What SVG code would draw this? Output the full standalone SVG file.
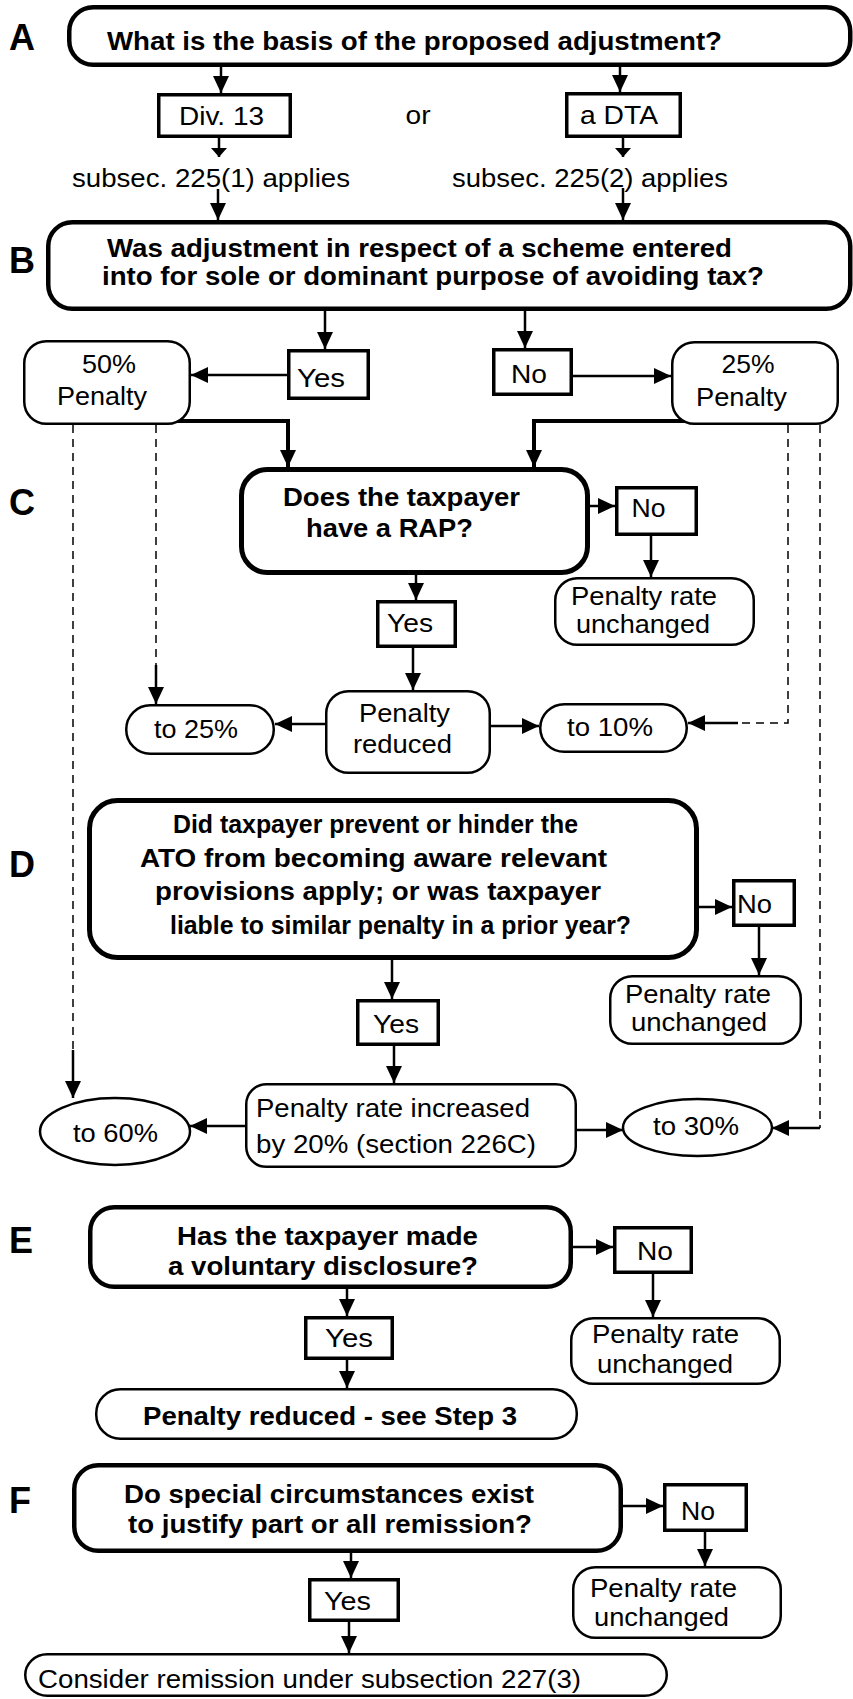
<svg xmlns="http://www.w3.org/2000/svg" width="853" height="1699" viewBox="0 0 853 1699">
<style>
.q{fill:#fff;stroke:#000;stroke-width:4.5}
.q5{fill:#fff;stroke:#000;stroke-width:5}
.sq{fill:#fff;stroke:#000;stroke-width:3.5}
.rb{fill:#fff;stroke:#000;stroke-width:2.5}
.ln{stroke:#000;stroke-width:2.5;fill:none}
.thk{stroke-width:4}
.dash{stroke:#000;stroke-width:1.5;stroke-dasharray:8 6;fill:none}
text{font-family:"Liberation Sans",Arial,sans-serif;fill:#000}
.t{font-size:26.5px}
.t2{font-size:25px}
.b{font-size:25.5px;font-weight:bold}
.L{font-size:36px;font-weight:bold}
</style>
<defs>
<marker id="a" markerUnits="userSpaceOnUse" markerWidth="17" markerHeight="16" refX="17" refY="8" orient="auto"><path d="M0,0 L17,8 L0,16 Z" fill="#000"/></marker>
<marker id="s" markerUnits="userSpaceOnUse" markerWidth="9" markerHeight="16" refX="9" refY="8" orient="auto"><path d="M0,0 L9,8 L0,16 Z" fill="#000"/></marker>
</defs>

<g id="letters">
<text class="L" x="9" y="50">A</text>
<text class="L" x="9" y="273">B</text>
<text class="L" x="9" y="515">C</text>
<text class="L" x="9" y="877">D</text>
<text class="L" x="9" y="1253">E</text>
<text class="L" x="9" y="1513">F</text>
</g>

<g id="connectors">
<line class="ln" x1="221" y1="67" x2="221" y2="93" marker-end="url(#a)"/>
<line class="ln" x1="620" y1="67" x2="620" y2="92" marker-end="url(#a)"/>
<line class="ln" x1="219" y1="138" x2="219" y2="157" marker-end="url(#s)"/>
<line class="ln" x1="623" y1="138" x2="623" y2="157" marker-end="url(#s)"/>
<line class="ln" x1="218" y1="189" x2="218" y2="220" marker-end="url(#a)"/>
<line class="ln" x1="623" y1="188" x2="623" y2="220" marker-end="url(#a)"/>
<line class="ln" x1="325" y1="311" x2="325" y2="349" marker-end="url(#a)"/>
<line class="ln" x1="525" y1="311" x2="525" y2="348" marker-end="url(#a)"/>
<line class="ln" x1="287" y1="375" x2="191" y2="375" marker-end="url(#a)"/>
<line class="ln" x1="573" y1="376" x2="671" y2="376" marker-end="url(#a)"/>
<polyline class="ln thk" points="170,421 288,421 288,467" marker-end="url(#a)"/>
<polyline class="ln thk" points="693,421 534,421 534,467" marker-end="url(#a)"/>
<line class="dash" x1="73" y1="425" x2="73" y2="1050"/>
<line class="ln" x1="73" y1="1050" x2="73" y2="1098" marker-end="url(#a)"/>
<line class="dash" x1="156" y1="425" x2="156" y2="665"/>
<line class="ln" x1="156" y1="665" x2="156" y2="704" marker-end="url(#a)"/>
<polyline class="dash" points="788,425 788,723 738,723"/>
<line class="ln" x1="738" y1="723" x2="688" y2="723" marker-end="url(#a)"/>
<line class="dash" x1="820" y1="425" x2="820" y2="1128"/>
<line class="ln" x1="820" y1="1128" x2="772" y2="1128" marker-end="url(#a)"/>
<line class="ln" x1="590" y1="506" x2="615" y2="506" marker-end="url(#a)"/>
<line class="ln" x1="651" y1="536" x2="651" y2="577" marker-end="url(#a)"/>
<line class="ln" x1="416" y1="557" x2="416" y2="600" marker-end="url(#a)"/>
<line class="ln" x1="413" y1="648" x2="413" y2="690" marker-end="url(#a)"/>
<line class="ln" x1="325" y1="724" x2="275" y2="724" marker-end="url(#a)"/>
<line class="ln" x1="491" y1="726" x2="539" y2="726" marker-end="url(#a)"/>
<line class="ln" x1="699" y1="907" x2="732" y2="907" marker-end="url(#a)"/>
<line class="ln" x1="759" y1="927" x2="759" y2="975" marker-end="url(#a)"/>
<line class="ln" x1="392" y1="960" x2="392" y2="999" marker-end="url(#a)"/>
<line class="ln" x1="394" y1="1046" x2="394" y2="1083" marker-end="url(#a)"/>
<line class="ln" x1="245" y1="1126" x2="190" y2="1126" marker-end="url(#a)"/>
<line class="ln" x1="577" y1="1130" x2="623" y2="1130" marker-end="url(#a)"/>
<line class="ln" x1="573" y1="1247" x2="613" y2="1247" marker-end="url(#a)"/>
<line class="ln" x1="653" y1="1274" x2="653" y2="1317" marker-end="url(#a)"/>
<line class="ln" x1="347" y1="1289" x2="347" y2="1316" marker-end="url(#a)"/>
<line class="ln" x1="347" y1="1360" x2="347" y2="1388" marker-end="url(#a)"/>
<line class="ln" x1="623" y1="1506" x2="663" y2="1506" marker-end="url(#a)"/>
<line class="ln" x1="705" y1="1532" x2="705" y2="1566" marker-end="url(#a)"/>
<line class="ln" x1="351" y1="1553" x2="351" y2="1578" marker-end="url(#a)"/>
<line class="ln" x1="349" y1="1622" x2="349" y2="1653" marker-end="url(#a)"/>
</g>

<g id="nodeA">
<rect class="q" x="69.25" y="7.25" width="781" height="57.5" rx="24"/>
<text class="b" x="414.5" y="50" text-anchor="middle" textLength="615" lengthAdjust="spacingAndGlyphs">What is the basis of the proposed adjustment?</text>
</g>
<g id="div13">
<rect class="sq" x="158.75" y="94.75" width="131.5" height="41.5"/>
<text class="t" x="221.5" y="125" text-anchor="middle" textLength="85" lengthAdjust="spacingAndGlyphs">Div. 13</text>
</g>
<g id="or"><text class="t" x="418" y="124" text-anchor="middle" textLength="25" lengthAdjust="spacingAndGlyphs">or</text></g>
<g id="dta">
<rect class="sq" x="566.75" y="93.75" width="113.5" height="42.5"/>
<text class="t" x="619" y="124" text-anchor="middle" textLength="78" lengthAdjust="spacingAndGlyphs">a DTA</text>
</g>
<g id="sub1"><text class="t" x="211" y="187" text-anchor="middle" textLength="278" lengthAdjust="spacingAndGlyphs">subsec. 225(1) applies</text></g>
<g id="sub2"><text class="t" x="590" y="187" text-anchor="middle" textLength="276" lengthAdjust="spacingAndGlyphs">subsec. 225(2) applies</text></g>

<g id="nodeB">
<rect class="q" x="48.25" y="222.25" width="802" height="86.5" rx="24"/>
<text class="b" x="419.5" y="257" text-anchor="middle" textLength="625" lengthAdjust="spacingAndGlyphs">Was adjustment in respect of a scheme entered</text>
<text class="b" x="433" y="285" text-anchor="middle" textLength="662" lengthAdjust="spacingAndGlyphs">into for sole or dominant purpose of avoiding tax?</text>
</g>
<g id="yesB">
<rect class="sq" x="288.75" y="350.75" width="79.5" height="47.5"/>
<text class="t" x="321" y="387" text-anchor="middle" textLength="48" lengthAdjust="spacingAndGlyphs">Yes</text>
</g>
<g id="noB">
<rect class="sq" x="493.75" y="349.75" width="77.5" height="44.5"/>
<text class="t" x="529" y="383" text-anchor="middle" textLength="36" lengthAdjust="spacingAndGlyphs">No</text>
</g>
<g id="p50">
<rect class="rb" x="24.25" y="341.25" width="165.5" height="82.5" rx="22"/>
<text class="t" x="109" y="373" text-anchor="middle" textLength="54" lengthAdjust="spacingAndGlyphs">50%</text>
<text class="t" x="102" y="405" text-anchor="middle" textLength="90" lengthAdjust="spacingAndGlyphs">Penalty</text>
</g>
<g id="p25">
<rect class="rb" x="672.25" y="342.25" width="165.5" height="81.5" rx="22"/>
<text class="t" x="748" y="373" text-anchor="middle" textLength="53" lengthAdjust="spacingAndGlyphs">25%</text>
<text class="t" x="741.5" y="406" text-anchor="middle" textLength="91" lengthAdjust="spacingAndGlyphs">Penalty</text>
</g>

<g id="nodeC">
<rect class="q5" x="241.5" y="469.5" width="346" height="103" rx="26"/>
<text class="b" x="401.5" y="506" text-anchor="middle" textLength="237" lengthAdjust="spacingAndGlyphs">Does the taxpayer</text>
<text class="b" x="389.5" y="537" text-anchor="middle" textLength="167" lengthAdjust="spacingAndGlyphs">have a RAP?</text>
</g>
<g id="noC">
<rect class="sq" x="616.75" y="487.75" width="79.5" height="46.5"/>
<text class="t" x="648.5" y="517" text-anchor="middle" textLength="34" lengthAdjust="spacingAndGlyphs">No</text>
</g>
<g id="pruC">
<rect class="rb" x="555.25" y="578.25" width="198.5" height="66.5" rx="22"/>
<text class="t2" x="644" y="605" text-anchor="middle" textLength="146" lengthAdjust="spacingAndGlyphs">Penalty rate</text>
<text class="t2" x="643" y="633" text-anchor="middle" textLength="134" lengthAdjust="spacingAndGlyphs">unchanged</text>
</g>
<g id="yesC">
<rect class="sq" x="377.75" y="601.75" width="77.5" height="44.5"/>
<text class="t" x="410" y="632" text-anchor="middle" textLength="46" lengthAdjust="spacingAndGlyphs">Yes</text>
</g>
<g id="reducedC">
<rect class="rb" x="326.25" y="691.25" width="163.5" height="81.5" rx="22"/>
<text class="t" x="404.5" y="722" text-anchor="middle" textLength="91" lengthAdjust="spacingAndGlyphs">Penalty</text>
<text class="t" x="402.5" y="753" text-anchor="middle" textLength="99" lengthAdjust="spacingAndGlyphs">reduced</text>
</g>
<g id="to25">
<rect class="rb" x="126.25" y="705.25" width="147.5" height="48.5" rx="24"/>
<text class="t" x="196" y="738" text-anchor="middle" textLength="84" lengthAdjust="spacingAndGlyphs">to 25%</text>
</g>
<g id="to10">
<rect class="rb" x="540.25" y="704.25" width="146.5" height="47.5" rx="24"/>
<text class="t" x="610" y="736" text-anchor="middle" textLength="86" lengthAdjust="spacingAndGlyphs">to 10%</text>
</g>

<g id="nodeD">
<rect class="q5" x="89.5" y="800.5" width="607" height="157" rx="28"/>
<text class="b" x="375.5" y="833" text-anchor="middle" textLength="405" lengthAdjust="spacingAndGlyphs">Did taxpayer prevent or hinder the</text>
<text class="b" x="373.5" y="867" text-anchor="middle" textLength="467" lengthAdjust="spacingAndGlyphs">ATO from becoming aware relevant</text>
<text class="b" x="378" y="900" text-anchor="middle" textLength="446" lengthAdjust="spacingAndGlyphs">provisions apply; or was taxpayer</text>
<text class="b" x="400.5" y="934" text-anchor="middle" textLength="461" lengthAdjust="spacingAndGlyphs">liable to similar penalty in a prior year?</text>
</g>
<g id="noD">
<rect class="sq" x="733.75" y="880.75" width="60.5" height="44.5"/>
<text class="t" x="754.5" y="913" text-anchor="middle" textLength="35" lengthAdjust="spacingAndGlyphs">No</text>
</g>
<g id="pruD">
<rect class="rb" x="610.25" y="976.25" width="190.5" height="67.5" rx="22"/>
<text class="t2" x="698" y="1003" text-anchor="middle" textLength="146" lengthAdjust="spacingAndGlyphs">Penalty rate</text>
<text class="t2" x="699" y="1031" text-anchor="middle" textLength="136" lengthAdjust="spacingAndGlyphs">unchanged</text>
</g>
<g id="yesD">
<rect class="sq" x="357.75" y="1000.75" width="80.5" height="43.5"/>
<text class="t" x="396" y="1033" text-anchor="middle" textLength="46" lengthAdjust="spacingAndGlyphs">Yes</text>
</g>
<g id="increased">
<rect class="rb" x="246.25" y="1084.25" width="329.5" height="82.5" rx="20"/>
<text class="t" x="256" y="1117" textLength="274" lengthAdjust="spacingAndGlyphs">Penalty rate increased</text>
<text class="t" x="256" y="1153" textLength="280" lengthAdjust="spacingAndGlyphs">by 20% (section 226C)</text>
</g>
<g id="to60">
<ellipse class="rb" cx="115" cy="1131.5" rx="75" ry="33.5"/>
<text class="t" x="115.5" y="1142" text-anchor="middle" textLength="85" lengthAdjust="spacingAndGlyphs">to 60%</text>
</g>
<g id="to30">
<ellipse class="rb" cx="697.5" cy="1127.5" rx="74.5" ry="28.5"/>
<text class="t" x="696" y="1135" text-anchor="middle" textLength="86" lengthAdjust="spacingAndGlyphs">to 30%</text>
</g>

<g id="nodeE">
<rect class="q" x="90.25" y="1207.25" width="480.5" height="79.5" rx="24"/>
<text class="b" x="327.5" y="1245" text-anchor="middle" textLength="301" lengthAdjust="spacingAndGlyphs">Has the taxpayer made</text>
<text class="b" x="323" y="1275" text-anchor="middle" textLength="310" lengthAdjust="spacingAndGlyphs">a voluntary disclosure?</text>
</g>
<g id="noE">
<rect class="sq" x="614.75" y="1227.75" width="76.5" height="44.5"/>
<text class="t" x="655" y="1260" text-anchor="middle" textLength="36" lengthAdjust="spacingAndGlyphs">No</text>
</g>
<g id="pruE">
<rect class="rb" x="571.25" y="1318.25" width="208.5" height="65.5" rx="22"/>
<text class="t" x="665.5" y="1343" text-anchor="middle" textLength="147" lengthAdjust="spacingAndGlyphs">Penalty rate</text>
<text class="t" x="665" y="1373" text-anchor="middle" textLength="136" lengthAdjust="spacingAndGlyphs">unchanged</text>
</g>
<g id="yesE">
<rect class="sq" x="305.75" y="1317.75" width="86.5" height="40.5"/>
<text class="t" x="349" y="1347" text-anchor="middle" textLength="48" lengthAdjust="spacingAndGlyphs">Yes</text>
</g>
<g id="step3">
<rect class="rb" x="96.25" y="1389.25" width="480.5" height="49.5" rx="24"/>
<text class="b" x="330" y="1425" text-anchor="middle" textLength="374" lengthAdjust="spacingAndGlyphs">Penalty reduced - see Step 3</text>
</g>

<g id="nodeF">
<rect class="q" x="74.25" y="1465.25" width="546.5" height="85.5" rx="24"/>
<text class="b" x="329" y="1503" text-anchor="middle" textLength="410" lengthAdjust="spacingAndGlyphs">Do special circumstances exist</text>
<text class="b" x="330" y="1533" text-anchor="middle" textLength="404" lengthAdjust="spacingAndGlyphs">to justify part or all remission?</text>
</g>
<g id="noF">
<rect class="sq" x="664.75" y="1484.75" width="81.5" height="45.5"/>
<text class="t" x="698" y="1520" text-anchor="middle" textLength="34" lengthAdjust="spacingAndGlyphs">No</text>
</g>
<g id="pruF">
<rect class="rb" x="573.25" y="1567.25" width="207.5" height="70.5" rx="22"/>
<text class="t2" x="663.5" y="1597" text-anchor="middle" textLength="147" lengthAdjust="spacingAndGlyphs">Penalty rate</text>
<text class="t2" x="661.5" y="1626" text-anchor="middle" textLength="135" lengthAdjust="spacingAndGlyphs">unchanged</text>
</g>
<g id="yesF">
<rect class="sq" x="309.75" y="1579.75" width="88.5" height="40.5"/>
<text class="t" x="347.5" y="1610" text-anchor="middle" textLength="47" lengthAdjust="spacingAndGlyphs">Yes</text>
</g>
<g id="remission">
<rect class="rb" x="25.25" y="1654.25" width="641.5" height="41.5" rx="22"/>
<text class="t" x="38" y="1688" textLength="543" lengthAdjust="spacingAndGlyphs">Consider remission under subsection 227(3)</text>
</g>
</svg>
